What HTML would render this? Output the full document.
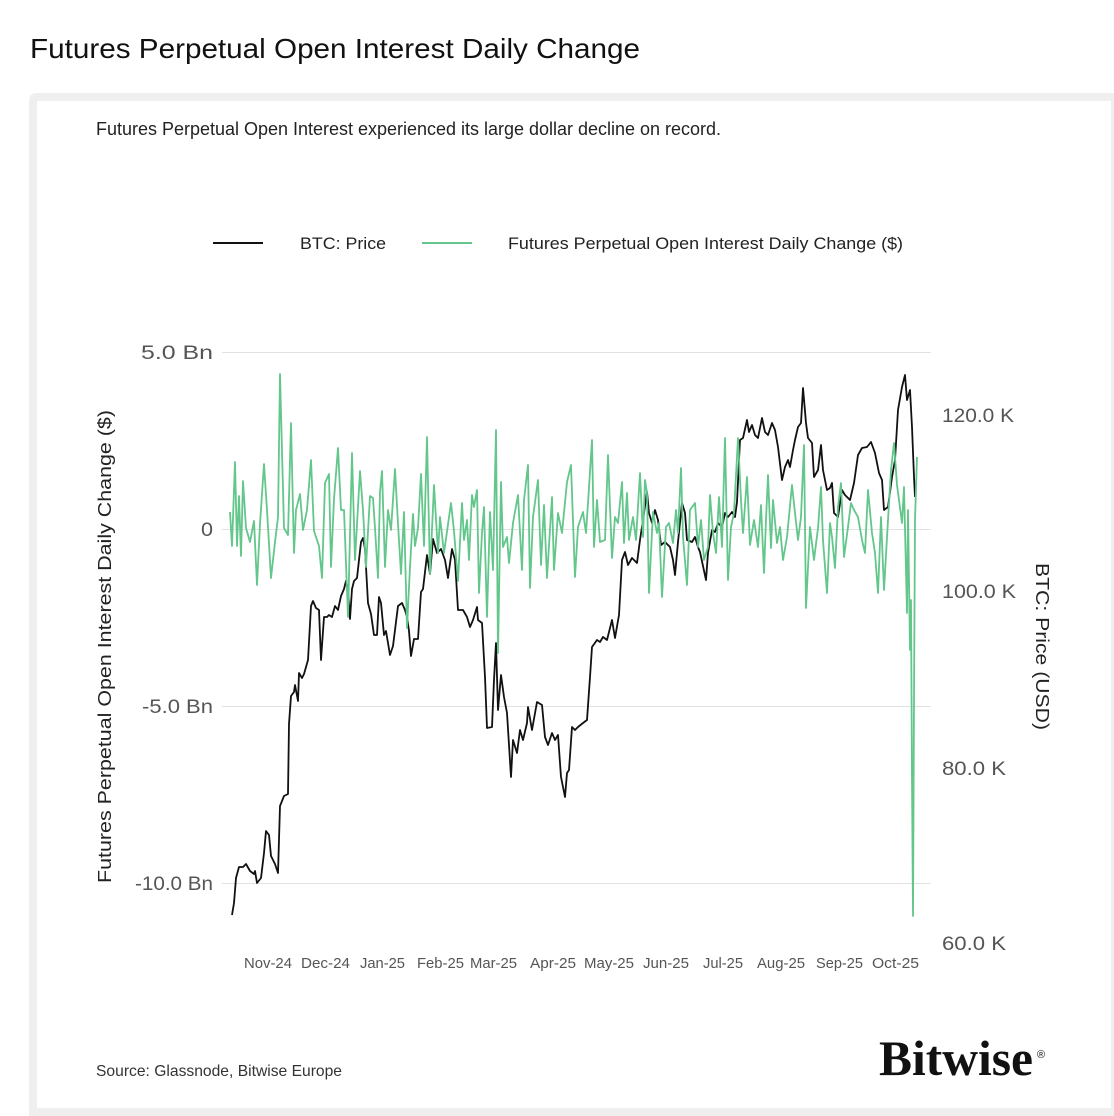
<!DOCTYPE html>
<html>
<head>
<meta charset="utf-8">
<style>
  html,body{margin:0;padding:0;background:#ffffff;}
  body{width:1114px;height:1116px;overflow:hidden;}
  svg{display:block;}
  text{font-family:"Liberation Sans",Arial,sans-serif;}
</style>
</head>
<body>
<svg width="1114" height="1116" viewBox="0 0 1114 1116" xmlns="http://www.w3.org/2000/svg">
  <rect x="0" y="0" width="1114" height="1116" fill="#ffffff"/>
  <!-- Title -->
  <text x="30" y="58" font-size="28" fill="#111" textLength="610" lengthAdjust="spacingAndGlyphs">Futures Perpetual Open Interest Daily Change</text>

  <!-- Card -->
  <rect x="29" y="93" width="1095" height="1030" rx="7" ry="7" fill="#efefef"/>
  <rect x="37" y="101" width="1074" height="1007" fill="#ffffff"/>

  <!-- Subtitle -->
  <text x="96" y="135" font-size="18" fill="#222" textLength="625" lengthAdjust="spacingAndGlyphs">Futures Perpetual Open Interest experienced its large dollar decline on record.</text>

  <!-- Legend -->
  <line x1="213" y1="243" x2="263" y2="243" stroke="#111" stroke-width="2"/>
  <text x="300" y="249" font-size="17" fill="#222" textLength="86" lengthAdjust="spacingAndGlyphs">BTC: Price</text>
  <line x1="422" y1="243" x2="472" y2="243" stroke="#63c68b" stroke-width="2"/>
  <text x="508" y="249" font-size="17" fill="#222" textLength="395" lengthAdjust="spacingAndGlyphs">Futures Perpetual Open Interest Daily Change ($)</text>

  <!-- Gridlines -->
  <g stroke="#e2e2e2" stroke-width="1">
    <line x1="222" y1="352.5" x2="931" y2="352.5"/>
    <line x1="222" y1="529.5" x2="931" y2="529.5"/>
    <line x1="222" y1="706.5" x2="931" y2="706.5"/>
    <line x1="222" y1="883.5" x2="931" y2="883.5"/>
  </g>

  <!-- Left tick labels -->
  <g font-size="19" fill="#555">
    <text x="141" y="359" textLength="72" lengthAdjust="spacingAndGlyphs">5.0 Bn</text>
    <text x="201" y="536" textLength="12" lengthAdjust="spacingAndGlyphs">0</text>
    <text x="142" y="713" textLength="71" lengthAdjust="spacingAndGlyphs">-5.0 Bn</text>
    <text x="135" y="890" textLength="78" lengthAdjust="spacingAndGlyphs">-10.0 Bn</text>
  </g>

  <!-- Right tick labels -->
  <g font-size="19" fill="#555">
    <text x="942" y="422" textLength="72" lengthAdjust="spacingAndGlyphs">120.0 K</text>
    <text x="942" y="598" textLength="74" lengthAdjust="spacingAndGlyphs">100.0 K</text>
    <text x="942" y="775" textLength="64" lengthAdjust="spacingAndGlyphs">80.0 K</text>
    <text x="942" y="950" textLength="64" lengthAdjust="spacingAndGlyphs">60.0 K</text>
  </g>

  <!-- Axis titles -->
  <text transform="translate(111,646.5) rotate(-90)" x="-236.5" y="0" font-size="18" fill="#222" textLength="473" lengthAdjust="spacingAndGlyphs">Futures Perpetual Open Interest Daily Change ($)</text>
  <text transform="translate(1036,646.5) rotate(90)" x="-83.5" y="0" font-size="18" fill="#222" textLength="167" lengthAdjust="spacingAndGlyphs">BTC: Price (USD)</text>

  <!-- X labels -->
  <g font-size="15" fill="#555">
    <text x="244" y="968" textLength="48" lengthAdjust="spacingAndGlyphs">Nov-24</text>
    <text x="301" y="968" textLength="49" lengthAdjust="spacingAndGlyphs">Dec-24</text>
    <text x="360" y="968" textLength="45" lengthAdjust="spacingAndGlyphs">Jan-25</text>
    <text x="417" y="968" textLength="47" lengthAdjust="spacingAndGlyphs">Feb-25</text>
    <text x="470" y="968" textLength="47" lengthAdjust="spacingAndGlyphs">Mar-25</text>
    <text x="530" y="968" textLength="46" lengthAdjust="spacingAndGlyphs">Apr-25</text>
    <text x="584" y="968" textLength="50" lengthAdjust="spacingAndGlyphs">May-25</text>
    <text x="643" y="968" textLength="46" lengthAdjust="spacingAndGlyphs">Jun-25</text>
    <text x="703" y="968" textLength="40" lengthAdjust="spacingAndGlyphs">Jul-25</text>
    <text x="757" y="968" textLength="48" lengthAdjust="spacingAndGlyphs">Aug-25</text>
    <text x="816" y="968" textLength="47" lengthAdjust="spacingAndGlyphs">Sep-25</text>
    <text x="872" y="968" textLength="47" lengthAdjust="spacingAndGlyphs">Oct-25</text>
  </g>

  <!-- BTC price (black) -->
  <polyline fill="none" stroke="#111" stroke-width="1.8" stroke-linejoin="round" points="
232,915 234,903 236,878 239,867 243,867 246,864 250,871 254,874 255,871 257,883 261,878 264,853 266,831 269,835 271,856 275,864 278,873 280,806 284,796 288,794 289,724 291,696 294,692 295,685 298,701 299,673 302,678 304,674 308,660 311,606 313,601 316,608 319,610 321,660 324,617 327,617 329,615 332,617 335,606 338,610 341,596 344,589 346,581 348,590 350,619 352,589 354,581 357,578 361,542 363,538 365,549 368,603 371,614 374,635 377,635 379,597 381,603 384,635 386,631 390,655 393,646 398,606 402,603 405,610 407,617 409,631 411,656 414,639 418,639 421,592 423,589 427,555 430,574 433,539 437,553 441,549 445,560 448,578 452,549 455,560 458,610
461,610 463,610 467,617 470,627 473,620 477,607 478,620 482,623 485,677 487,728 492,727 494,680 496,643 498,710 501,675 504,697 507,713 511,777 513,740 517,753 520,730 523,740 527,723 528,707 532,730 537,702 542,705 545,737 548,745 552,733 555,740 558,735 561,777 565,797 567,773 569,770 572,727 575,730 578,727 583,723 587,720 590,677 592,647 597,640 600,642 603,637 607,640 612,620 615,638 619,615 622,560 625,552 628,565 632,558 637,563 640,540 643,520 647,492 649,513 652,523 655,510 658,520 661,545 665,542 670,547 673,560 675,575 678,542 682,503 685,513 687,540 692,542 695,537 698,547
700,552 706,580 708,553 712,530 715,532 718,523 722,527 725,513 728,517 732,512 735,517 737,502 740,440 743,438 747,420 749,432 752,425 755,435 758,438 762,418 765,432 768,435 772,423 775,430 778,447 782,480 785,467 788,460 790,467 793,450 795,440 798,427 801,423 803,388 806,423 808,438 812,443 814,477 818,470 821,445 823,470 827,490 830,488 832,483 834,513 838,517 842,490 845,495 850,500 854,483 858,455 862,448 867,447 871,442 875,453 879,473 882,480 884,510 888,507 892,477 895,460 898,410 902,387 905,375 907,400 910,390 912,427 914,477 915,497"/>

  <!-- OI daily change (green) -->
  <polyline fill="none" stroke="#63c68b" stroke-width="1.8" stroke-linejoin="round" points="
230,512 232,546 235,462 237,546 239,496 241,556 243,481 246,528 250,542 254,521 257,585 260,524 264,464 267,510 271,578 275,542 278,517 280,374 284,528 288,535 291,423 294,553 296,510 300,494 303,530 307,510 311,460 314,531 319,546 322,578 325,483 329,474 331,567 334,499 338,448 341,510 344,510 348,617 352,453 355,560 360,471 363,510 366,567 370,496 373,498 375,528 378,578 380,492 382,471 385,567 388,510 391,530 395,469 398,524 401,574 404,512 407,628 410,567 413,514 415,546 418,528 421,474 424,546 427,437 430,574 434,485 438,553 440,517 444,553 451,503 454,531 458,581
462,503 464,540 467,520 469,560 472,495 474,507 477,490 479,593 482,533 484,507 487,617 490,512 493,570 496,430 498,653 501,482 503,547 507,537 509,563 513,523 518,495 522,570 524,500 528,465 530,588 533,517 538,480 541,565 544,505 547,578 552,497 554,570 558,513 562,533 567,482 571,465 575,577 578,527 583,512 586,533 588,503 592,440 594,547 597,500 600,542 605,540 608,455 612,558 615,517 618,523 622,482 624,543 627,493 629,540 633,517 636,540 640,473 643,537 645,480 647,493 649,593 653,512 657,533 659,523 662,597 666,527 669,523 673,543 676,510 678,533 681,468 683,537 687,585 690,510
695,503 698,547 701,520 704,560 708,547 710,495 713,533 716,553 719,497 722,547 725,438 728,580 731,527 734,513 738,438 741,500 743,533 747,477 750,545 754,520 758,547 761,505 764,573 766,520 768,475 771,548 773,500 777,543 780,527 783,560 787,537 792,485 795,513 798,540 801,517 804,445 806,608 810,527 814,560 818,528 821,487 823,540 827,593 830,523 832,537 835,568 838,507 841,483 844,557 848,527 851,503 854,510 858,517 862,540 865,553 868,490 872,533 875,553 878,593 881,517 884,590 888,520 891,470 894,443 897,485 899,500 902,523 904,487 907,613 908,510 910,650 911,600 912,780 913,916 914,700 915,520 917,457"/>

  <!-- Source -->
  <text x="96" y="1076" font-size="16" fill="#333" textLength="246" lengthAdjust="spacingAndGlyphs">Source: Glassnode, Bitwise Europe</text>

  <!-- Bitwise logo -->
  <text x="879" y="1075" font-family="'Liberation Serif','Times New Roman',serif" font-weight="bold" font-size="50" fill="#111" textLength="154" lengthAdjust="spacingAndGlyphs" style="font-family:'Liberation Serif','Times New Roman',serif;">Bitwise</text>
  <text x="1037" y="1058" font-size="11" fill="#111">®</text>
</svg>
</body>
</html>
